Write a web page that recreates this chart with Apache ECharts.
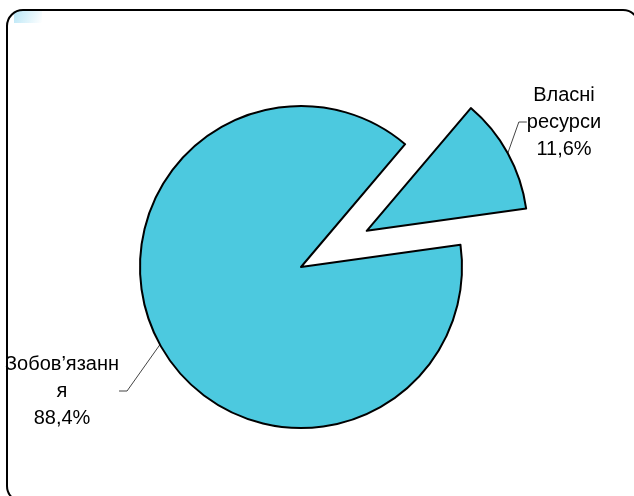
<!DOCTYPE html>
<html><head><meta charset="utf-8">
<script src="https://cdn.jsdelivr.net/npm/echarts@6/dist/echarts.min.js"></script>
<style>html,body{margin:0;padding:0;background:#fff}#c{width:634px;height:496px}</style>
</head><body><div id="c"></div>
<script>
const categories = ['Власні ресурси', 'Зобов’язання'];
const labelNames = ['Власні\nресурси', 'Зобов’язанн\nя'];
const values = [11.6, 88.4];
const percentLabels = ['11,6%', '88,4%'];

const chart = echarts.init(document.getElementById('c'), null, {renderer: 'canvas'});
const CX = 301, CY = 267, R = 161, START = 49.7, EXPLODE = 75;
const total = values.reduce((a, b) => a + b, 0);
const midRad = (START - values[0] / total * 180) * Math.PI / 180;
const center2 = [CX + EXPLODE * Math.cos(midRad), CY - EXPLODE * Math.sin(midRad)];

const labelOpt = {
  show: true,
  position: 'outside',
  color: '#000',
  fontFamily: 'Liberation Sans, Arial, sans-serif',
  fontSize: 20,
  lineHeight: 27,
  align: 'center',
  formatter: p => labelNames[p.dataIndex] + '\n' + percentLabels[p.dataIndex]
};
const hidden = {itemStyle: {color: 'rgba(0,0,0,0)', borderWidth: 0}, label: {show: false}, labelLine: {show: false}};
function mkData(visibleIndex) {
  return categories.map((c, i) => Object.assign({name: c, value: values[i]}, i === visibleIndex ? {} : hidden));
}
const common = {
  type: 'pie',
  radius: R,
  startAngle: START,
  clockwise: true,
  silent: true,
  itemStyle: {color: '#4cc9df', borderColor: '#000', borderWidth: 2},
  label: labelOpt,
  labelLine: {show: true, length: 12, length2: 8, lineStyle: {color: '#444', width: 1}},
  emphasis: {disabled: true}
};
chart.setOption({
  animation: false,
  backgroundColor: '#fff',
  graphic: [
    {type: 'rect', z: 0, shape: {x: 14, y: 11, width: 28, height: 12},
     style: {fill: new echarts.graphic.LinearGradient(0, 0, 1, 1, [
       {offset: 0, color: '#b9e6f6'}, {offset: 1, color: '#ffffff'}])}},
    {type: 'rect', z: 10, shape: {x: 7, y: 10, width: 632, height: 492, r: 16},
     style: {fill: 'none', stroke: '#000', lineWidth: 2}}
  ],
  series: [
    Object.assign({}, common, {
      center: [CX, CY],
      data: mkData(1),
      labelLayout: () => ({x: 62, y: 391, align: 'center', verticalAlign: 'middle'})
    }),
    Object.assign({}, common, {
      center: center2,
      data: mkData(0),
      labelLayout: () => ({x: 564, y: 122, align: 'center', verticalAlign: 'middle'})
    })
  ]
});
</script>
</body></html>
